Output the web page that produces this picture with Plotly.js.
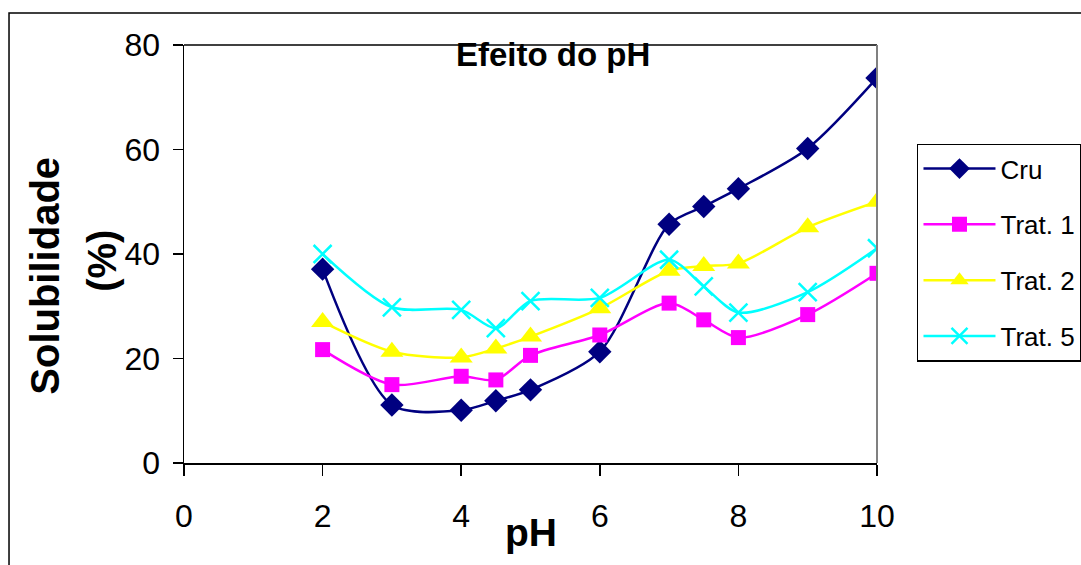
<!DOCTYPE html>
<html>
<head>
<meta charset="utf-8">
<script src="https://cdn.plot.ly/plotly-3.0.1.min.js"></script>
<style>html,body{margin:0;padding:0;background:#fff;}</style>
</head>
<body>
<div id="chart" style="width:1081px;height:565px;"></div>
<script>
const phValues = [2, 3, 4, 4.5, 5, 6, 7, 7.5, 8, 9, 10];
const cru    = [37.1, 11.1, 10.1, 11.9, 14.0, 21.3, 45.7, 49.1, 52.5, 60.2, 73.7];
const trat1  = [21.7, 15.0, 16.6, 15.9, 20.6, 24.5, 30.6, 27.4, 24.0, 28.4, 36.3];
const trat2  = [27.0, 21.3, 20.2, 21.9, 24.2, 29.6, 36.8, 37.7, 38.2, 45.1, 50.0];
const trat5  = [40.0, 29.8, 29.3, 25.8, 31.0, 31.6, 38.9, 33.8, 28.8, 32.7, 41.1];
const seriesNames = ["Cru", "Trat. 1", "Trat. 2", "Trat. 5"];
const xTicks = [0, 2, 4, 6, 8, 10];
const yTicks = [0, 20, 40, 60, 80];

const sans = "Liberation Sans, Arial, sans-serif";

function tr(name, y, color, symbol, size, group, open) {
  return {
    x: phValues, y: y, name: name, type: "scatter", mode: "lines+markers",
    legendgroup: group,
    line: {color: color, width: 2.5, shape: "spline", smoothing: 0.8},
    marker: open
      ? {symbol: symbol, size: size, color: color, line: {color: color, width: 2.5}}
      : {symbol: symbol, size: size, color: color, line: {width: 0}}
  };
}

const data = [
  tr(seriesNames[0], cru,   "#000080", "diamond",     18, "a", false),
  tr(seriesNames[1], trat1, "#FF00FF", "square",      15, "b", false),
  tr(seriesNames[2], trat2, "#FFFF00", "triangle-up", 20, "c", false),
  tr(seriesNames[3], trat5, "#00FFFF", "x-thin-open", 18, "d", true)
];

const layout = {
  width: 1081, height: 565,
  margin: {l: 184, r: 204, t: 45, b: 102, autoexpand: false},
  paper_bgcolor: "#ffffff", plot_bgcolor: "#ffffff",
  showlegend: true,
  legend: {
    x: 1.0577, y: 0.764, xanchor: "left", yanchor: "top",
    bordercolor: "#000000", borderwidth: 1.5, bgcolor: "#ffffff",
    font: {family: sans, size: 26, color: "#000000"},
    itemwidth: 72, traceorder: "grouped", tracegroupgap: 19
  },
  xaxis: {
    range: [0, 10], tickvals: xTicks, ticktext: xTicks.map(String),
    showgrid: false, zeroline: false, showline: true, linecolor: "#000000", linewidth: 1.5,
    ticks: "outside", ticklen: 11, tickwidth: 1.5, tickcolor: "#000000",
    tickfont: {family: sans, size: 32, color: "#000000"}, ticklabelstandoff: 13
  },
  yaxis: {
    range: [0, 80], tickvals: yTicks, ticktext: yTicks.map(String),
    showgrid: false, zeroline: false, showline: true, linecolor: "#000000", linewidth: 1.5,
    ticks: "outside", ticklen: 10, tickwidth: 1.5, tickcolor: "#000000",
    tickfont: {family: sans, size: 32, color: "#000000"}, ticklabelstandoff: 6
  },
  shapes: [
    {type: "line", xref: "paper", yref: "paper", x0: 0, x1: 1, y0: 1, y1: 1, line: {color: "#000000", width: 1.5}},
    {type: "line", xref: "paper", yref: "paper", x0: 1, x1: 1, y0: 0, y1: 1, line: {color: "#808080", width: 2}},
    {type: "rect", xref: "paper", yref: "paper", x0: -0.2525, x1: 1.6, y0: -0.6, y1: 1.0766, line: {color: "#000000", width: 1.5}, layer: "below"}
  ],
  annotations: [
    {text: "<b>Efeito do pH</b>", xref: "paper", yref: "paper", x: 0.532, y: 0.978, xanchor: "center", yanchor: "middle", showarrow: false, font: {family: sans, size: 33, color: "#000000"}},
    {text: "<b>pH</b>", xref: "paper", yref: "paper", x: 0.5, y: -0.166, xanchor: "center", yanchor: "middle", showarrow: false, font: {family: sans, size: 39, color: "#000000"}},
    {text: "<b>Solubilidade</b>", xref: "paper", yref: "paper", x: -0.2006, y: 0.448, xanchor: "center", yanchor: "middle", textangle: -90, showarrow: false, font: {family: sans, size: 40, color: "#000000"}},
    {text: "<b>(%)</b>", xref: "paper", yref: "paper", x: -0.1183, y: 0.4836, xanchor: "center", yanchor: "middle", textangle: -90, showarrow: false, font: {family: sans, size: 40, color: "#000000"}}
  ]
};

Plotly.newPlot("chart", data, layout, {displayModeBar: false, staticPlot: true});
</script>
</body>
</html>
